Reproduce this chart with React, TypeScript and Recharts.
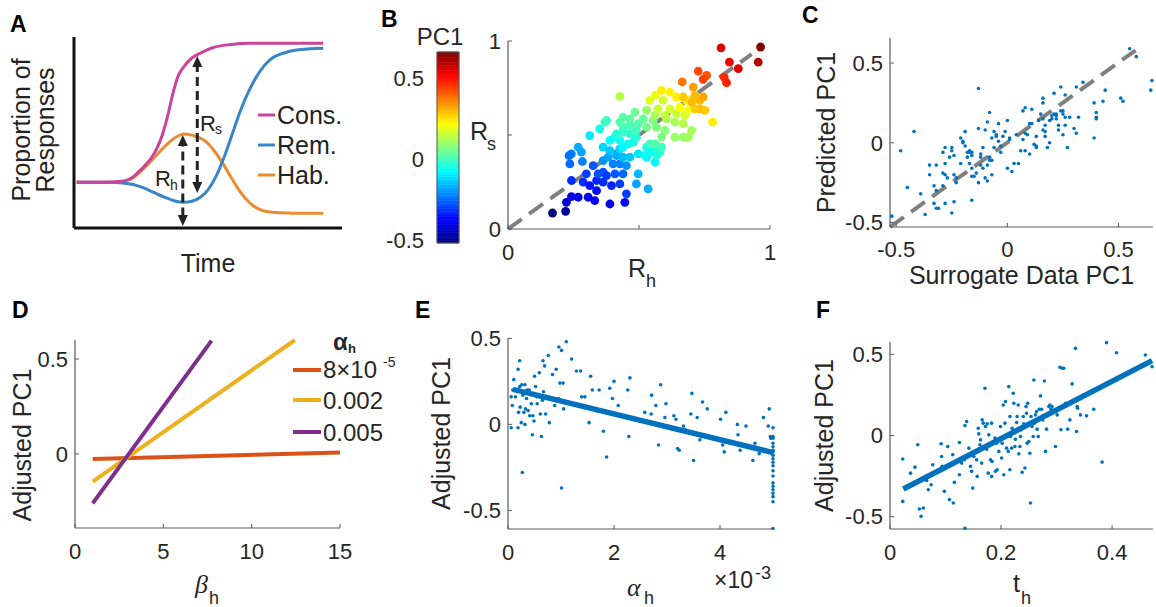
import React from 'react';
import { ComposedChart, XAxis, YAxis, Line, Scatter, ReferenceArea } from 'recharts';

const FONT = "'Liberation Sans', Arial, Helvetica, sans-serif";
const SERIF = "'Liberation Serif', 'Times New Roman', serif";
const TXT = '#262626';
const AXC = '#5a5a5a';
const BLUE = '#0072BD';
const GRAY = '#808080';
const MAG = '#C9449A';
const REM = '#3A85C7';
const HAB = '#EC8B30';

// ---------- Panel A (schematic curves, time in % of axis, proportion 0..1) ----------
const consCurve = [[1,0.239],[12,0.239],[17,0.243],[21,0.258],[24,0.292],[27,0.335],[29,0.37],[31,0.42],[33,0.49],[35,0.59],[37,0.71],[39,0.8],[41,0.845],[44,0.89],[47,0.915],[52,0.945],[58,0.96],[66,0.967],[93,0.967]];
const remCurve = [[1,0.239],[14,0.239],[18,0.236],[22,0.228],[26,0.21],[30,0.185],[34,0.16],[38,0.14],[41,0.135],[44,0.14],[47,0.16],[50,0.2],[53,0.27],[56,0.37],[59,0.49],[62,0.61],[65,0.71],[68,0.79],[71,0.85],[74,0.89],[78,0.915],[83,0.932],[93,0.941]];
const habCurve = [[1,0.239],[12,0.239],[17,0.242],[21,0.255],[24,0.285],[27,0.325],[30,0.37],[33,0.415],[36,0.455],[39,0.483],[41,0.492],[43,0.49],[46,0.477],[49,0.455],[52,0.41],[55,0.35],[58,0.28],[61,0.21],[64,0.155],[67,0.115],[70,0.093],[74,0.082],[80,0.078],[93,0.077]];
const rhShaft = [[40.6,0.06],[40.6,0.44]];
const rsShaft = [[46.0,0.23],[46.0,0.85]];
const arrowHeads = [[40.6,0.487,1],[40.6,0.01,-1],[46.0,0.9,1],[46.0,0.183,-1]];

// ---------- Panel B (Rh, Rs, PC1) ----------
const scatterB = [[0.17,0.085,-0.52],[0.22,0.094,-0.48],[0.223,0.142,-0.42],[0.242,0.172,-0.4],[0.268,0.169,-0.4],[0.306,0.169,-0.38],[0.331,0.151,-0.38],[0.389,0.133,-0.4],[0.446,0.142,-0.36],[0.242,0.258,-0.32],[0.287,0.249,-0.32],[0.312,0.231,-0.35],[0.338,0.204,-0.36],[0.363,0.249,-0.32],[0.395,0.231,-0.33],[0.427,0.24,-0.3],[0.452,0.187,-0.3],[0.338,0.258,-0.33],[0.299,0.293,-0.3],[0.325,0.337,-0.27],[0.344,0.293,-0.28],[0.363,0.302,-0.28],[0.376,0.284,-0.3],[0.408,0.293,-0.27],[0.439,0.293,-0.25],[0.236,0.346,-0.25],[0.242,0.4,-0.22],[0.233,0.39,-0.24],[0.284,0.359,-0.22],[0.268,0.435,-0.17],[0.28,0.409,-0.18],[0.401,0.346,-0.22],[0.427,0.346,-0.22],[0.452,0.337,-0.2],[0.363,0.364,-0.2],[0.382,0.382,-0.18],[0.414,0.391,-0.17],[0.312,0.497,-0.1],[0.35,0.533,-0.05],[0.376,0.577,-0.02],[0.363,0.435,-0.12],[0.389,0.417,-0.14],[0.427,0.426,-0.12],[0.439,0.382,-0.15],[0.465,0.382,-0.14],[0.497,0.293,-0.16],[0.49,0.24,-0.18],[0.535,0.213,-0.17],[0.497,0.4,-0.1],[0.529,0.382,-0.09],[0.561,0.355,-0.08],[0.408,0.488,-0.05],[0.427,0.471,-0.06],[0.439,0.435,-0.08],[0.459,0.453,-0.06],[0.478,0.462,-0.05],[0.389,0.471,-0.07],[0.414,0.506,-0.03],[0.439,0.515,-0.02],[0.465,0.506,-0.02],[0.49,0.488,-0.03],[0.529,0.435,-0.05],[0.541,0.409,-0.06],[0.561,0.435,-0.03],[0.58,0.409,-0.02],[0.522,0.391,-0.06],[0.567,0.391,-0.04],[0.439,0.542,0],[0.37,0.568,0],[0.427,0.568,0.02],[0.439,0.595,0.03],[0.465,0.586,0.03],[0.484,0.622,0.05],[0.465,0.551,0.01],[0.497,0.56,0.02],[0.516,0.586,0.04],[0.49,0.524,0],[0.541,0.453,0],[0.561,0.453,0.02],[0.586,0.435,0],[0.529,0.542,0.06],[0.554,0.577,0.07],[0.567,0.542,0.07],[0.586,0.488,0.07],[0.599,0.524,0.08],[0.637,0.488,0.1],[0.669,0.488,0.1],[0.688,0.488,0.11],[0.701,0.524,0.12],[0.669,0.56,0.13],[0.637,0.568,0.12],[0.605,0.586,0.12],[0.529,0.631,0.1],[0.561,0.604,0.12],[0.427,0.705,0.13],[0.541,0.684,0.18],[0.561,0.71,0.2],[0.592,0.684,0.17],[0.618,0.639,0.17],[0.643,0.613,0.16],[0.675,0.604,0.17],[0.599,0.604,0.15],[0.573,0.639,0.16],[0.586,0.737,0.24],[0.618,0.728,0.23],[0.643,0.702,0.24],[0.682,0.684,0.23],[0.656,0.648,0.22],[0.781,0.568,0.24],[0.688,0.631,0.2],[0.669,0.702,0.28],[0.707,0.755,0.33],[0.713,0.71,0.3],[0.701,0.675,0.3],[0.732,0.684,0.3],[0.745,0.702,0.32],[0.732,0.639,0.3],[0.752,0.631,0.28],[0.713,0.639,0.28],[0.665,0.782,0.38],[0.758,0.817,0.42],[0.726,0.84,0.43],[0.745,0.796,0.44],[0.825,0.808,0.47],[0.834,0.778,0.48],[0.813,0.963,0.55],[0.845,0.888,0.53],[0.879,0.853,0.55],[0.955,0.888,0.6],[0.964,0.968,0.66]];
const identityB = [[0,0],[0.93,0.93]];
const PC1_MIN = -0.519;
const PC1_MAX = 0.663;
const pc1Ticks = [-0.5, 0, 0.5];

// ---------- Panel C ----------
const scatterC = [[-0.52,-0.46],[-0.48,-0.05],[-0.42,0.07],[-0.45,-0.28],[-0.39,-0.32],[-0.37,-0.45],[-0.35,-0.14],[-0.35,-0.2],[-0.33,-0.27],[-0.32,-0.14],[-0.32,-0.3],[-0.33,-0.38],[-0.32,-0.41],[-0.31,-0.41],[-0.29,-0.19],[-0.29,-0.06],[-0.28,-0.13],[-0.28,-0.03],[-0.29,-0.27],[-0.28,-0.38],[-0.28,-0.2],[-0.26,-0.09],[-0.25,-0.05],[-0.25,-0.03],[-0.24,-0.08],[-0.25,-0.44],[-0.27,-0.22],[-0.24,-0.2],[-0.23,-0.25],[-0.23,-0.22],[-0.24,-0.37],[-0.21,-0.13],[-0.21,0.03],[-0.2,0.01],[-0.2,0],[-0.19,0.07],[-0.19,-0.02],[-0.18,-0.09],[-0.18,-0.06],[-0.17,-0.05],[-0.17,-0.06],[-0.16,-0.08],[-0.16,-0.06],[-0.17,-0.13],[-0.16,-0.16],[-0.16,-0.21],[-0.16,-0.36],[-0.15,-0.21],[-0.14,-0.19],[-0.13,-0.25],[-0.13,0.34],[-0.13,0.09],[-0.12,-0.07],[-0.12,-0.14],[-0.12,-0.09],[-0.11,-0.16],[-0.11,-0.03],[-0.1,-0.22],[-0.1,0.08],[-0.09,0.13],[-0.09,-0.14],[-0.09,-0.24],[-0.08,-0.09],[-0.08,0.19],[-0.08,-0.11],[-0.07,-0.2],[-0.07,0.03],[-0.07,-0.11],[-0.06,0.07],[-0.06,-0.03],[-0.05,0.05],[-0.05,0.04],[-0.04,0.01],[-0.04,0.12],[-0.03,-0.06],[-0.03,-0.02],[-0.02,0.04],[-0.01,0.07],[0,0.14],[0,-0.16],[0.01,0.02],[0.01,0.03],[0.02,-0.18],[0.03,-0.13],[0.04,0.05],[0.05,-0.13],[0.06,-0.05],[0.07,0.2],[0.07,0.02],[0.08,0.22],[0.08,-0.05],[0.08,0.06],[0.09,0.05],[0.1,-0.07],[0.1,0.12],[0.11,0.21],[0.11,0.12],[0.12,-0.01],[0.13,-0.02],[0.13,0.04],[0.13,-0.03],[0.14,0.14],[0.15,0.18],[0.16,0.15],[0.16,0.08],[0.16,0.28],[0.16,0.25],[0.17,0.07],[0.17,0.04],[0.17,0.11],[0.18,-0.03],[0.19,0.14],[0.19,0],[0.2,0.17],[0.2,0.15],[0.21,0.31],[0.21,0.18],[0.22,0.17],[0.22,0.18],[0.22,0.15],[0.23,0.08],[0.23,0.11],[0.24,0.35],[0.24,0.2],[0.25,0.05],[0.25,0.2],[0.25,0.18],[0.26,0.3],[0.26,0.11],[0.26,0.16],[0.27,-0.03],[0.28,0.16],[0.3,0.09],[0.31,0.06],[0.31,0.35],[0.32,0.16],[0.34,0.38],[0.39,0.25],[0.39,0.03],[0.4,0.16],[0.4,0.15],[0.4,0.19],[0.43,0.26],[0.44,0.33],[0.51,0.28],[0.52,0.26],[0.55,0.59],[0.58,0.54],[0.645,0.33],[0.65,0.39]];
const identityC = [[-0.528,-0.528],[0.577,0.58]];

// ---------- Panel D (beta_h vs Adjusted PC1, three alpha_h) ----------
const dLowAlpha = [[1,-0.026],[15,0.007]];
const dMidAlpha = [[1,-0.146],[12.45,0.6]];
const dHighAlpha = [[1,-0.26],[7.73,0.597]];

// ---------- Panel E (alpha_h x1e-3) ----------
const scatterE = [[0.06,-0.02],[0.06,0.16],[0.08,0.11],[0.09,0.2],[0.11,0.26],[0.14,0.16],[0.17,0.2],[0.19,0.32],[0.19,-0.02],[0.2,0.07],[0.22,0.37],[0.22,0.22],[0.23,0.1],[0.25,0.01],[0.26,0.23],[0.27,-0.28],[0.28,0.17],[0.3,0.07],[0.32,0.23],[0.32,0],[0.33,0.09],[0.35,0.15],[0.36,0.2],[0.38,0.08],[0.4,0.2],[0.41,0.05],[0.44,0.12],[0.46,-0.06],[0.47,0.05],[0.49,0.02],[0.5,0.28],[0.52,0.22],[0.54,0.16],[0.55,0.12],[0.59,0.3],[0.6,0.16],[0.61,0.06],[0.63,-0.07],[0.65,0.14],[0.66,0.37],[0.67,0.19],[0.69,0.34],[0.71,0.06],[0.72,0.15],[0.76,0.4],[0.78,0.01],[0.79,0.15],[0.84,0.29],[0.88,0.11],[0.91,0.32],[0.95,0.15],[0.96,0.45],[0.98,0.24],[1.01,0.43],[1.01,-0.37],[1.04,0.24],[1.05,0.09],[1.1,0.48],[1.2,0.38],[1.23,0.12],[1.29,0.31],[1.37,0.31],[1.39,0.16],[1.45,0.16],[1.53,0.01],[1.56,0.28],[1.59,0.2],[1.67,0.08],[1.72,0.2],[1.8,-0.04],[1.86,-0.19],[1.92,0.21],[1.97,0.15],[2.0,0.25],[2.08,0.11],[2.26,0.2],[2.28,-0.07],[2.3,0.27],[2.58,0.07],[2.7,0.06],[2.71,0.17],[2.79,0.11],[2.84,-0.12],[2.88,0.23],[2.96,0.04],[2.98,0.12],[3.13,0.05],[3.17,0.03],[3.2,-0.14],[3.23,-0.15],[3.31,-0.01],[3.34,-0.03],[3.45,0.06],[3.47,0.18],[3.5,-0.21],[3.57,0.04],[3.62,-0.09],[3.67,0.13],[3.76,0.09],[4.01,0.03],[4.05,-0.12],[4.08,-0.16],[4.11,0.07],[4.33,0],[4.34,-0.06],[4.38,-0.15],[4.49,-0.01],[4.62,-0.21],[4.66,-0.11],[4.74,-0.17],[4.82,0.04],[4.91,-0.01],[4.93,0.09],[4.95,-0.07],[4.96,-0.08],[5,-0.02],[5,-0.07],[5,-0.08],[5,-0.11],[5,-0.13],[5,-0.15],[5,-0.16],[5,-0.18],[5,-0.2],[5,-0.22],[5,-0.24],[5,-0.27],[5,-0.3],[5,-0.34],[5,-0.36],[5,-0.38],[5,-0.4],[5,-0.42],[5,-0.45],[5,-0.605]];
const fitE = [[0.095,0.203],[5,-0.164]];

// ---------- Panel F (t_h) ----------
const scatterF = [[0.023,-0.145],[0.023,-0.406],[0.037,-0.232],[0.045,-0.195],[0.05,-0.057],[0.053,-0.453],[0.056,-0.498],[0.06,-0.447],[0.066,-0.277],[0.069,-0.334],[0.074,-0.303],[0.077,-0.18],[0.092,-0.051],[0.093,-0.129],[0.094,-0.19],[0.098,-0.344],[0.104,-0.068],[0.107,-0.395],[0.113,-0.119],[0.114,-0.416],[0.116,-0.289],[0.125,-0.043],[0.125,-0.242],[0.129,-0.17],[0.134,-0.15],[0.135,0.061],[0.138,0.086],[0.135,-0.572],[0.142,-0.078],[0.145,-0.19],[0.147,-0.221],[0.149,-0.324],[0.151,-0.129],[0.156,-0.15],[0.157,-0.252],[0.159,0.045],[0.16,0.01],[0.162,-0.057],[0.163,-0.027],[0.165,-0.17],[0.166,0.096],[0.168,0.076],[0.171,0.291],[0.172,0.055],[0.174,-0.084],[0.175,0.072],[0.177,-0.232],[0.178,0.004],[0.18,-0.057],[0.181,-0.15],[0.183,-0.252],[0.183,0.076],[0.184,-0.16],[0.186,-0.037],[0.189,-0.016],[0.19,-0.221],[0.192,-0.047],[0.193,-0.211],[0.196,-0.098],[0.199,0.055],[0.201,-0.139],[0.202,-0.047],[0.204,0.188],[0.205,-0.242],[0.207,0.076],[0.208,0.209],[0.21,-0.078],[0.213,-0.098],[0.214,0.301],[0.216,-0.211],[0.216,0.117],[0.217,-0.006],[0.219,-0.078],[0.22,0.045],[0.222,0.26],[0.223,0.199],[0.225,-0.068],[0.226,-0.023],[0.228,0.08],[0.229,0.117],[0.231,0.188],[0.232,-0.113],[0.234,-0.068],[0.235,-0.006],[0.236,0.035],[0.238,-0.227],[0.24,0.117],[0.241,0.072],[0.243,-0.2],[0.245,0.178],[0.246,0.137],[0.247,-0.047],[0.248,0.199],[0.25,-0.037],[0.252,-0.109],[0.253,-0.416],[0.254,0.117],[0.256,0.055],[0.258,-0.006],[0.259,0.342],[0.26,0.076],[0.262,0.127],[0.264,0.148],[0.265,0.039],[0.267,-0.006],[0.269,0.162],[0.271,0.244],[0.273,0.162],[0.275,0.096],[0.278,0.336],[0.28,-0.098],[0.282,0.039],[0.286,0.178],[0.288,0.188],[0.29,0.162],[0.292,0.178],[0.298,-0.068],[0.301,0.127],[0.306,0.42],[0.308,0.035],[0.31,0.414],[0.313,0.414],[0.316,0.199],[0.32,0.039],[0.324,0.096],[0.328,0.318],[0.334,0.537],[0.336,0.025],[0.337,0.178],[0.338,0.168],[0.343,0.127],[0.354,0.121],[0.367,0.162],[0.382,-0.164],[0.39,0.572],[0.408,0.51],[0.46,0.496],[0.472,0.424]];
const fitF = [[0.024,-0.33],[0.472,0.461]];

// ---------- helpers ----------
const xy = (arr: number[][]) => arr.map(([x, y]) => ({ x, y }));

function jet(v: number) {
  const t = Math.max(0, Math.min(1, (v - PC1_MIN) / (PC1_MAX - PC1_MIN)));
  const c = (u: number) => Math.round(255 * Math.max(0, Math.min(1, u)));
  const r = c(Math.min(4 * t - 1.5, -4 * t + 4.5));
  const g = c(Math.min(4 * t - 0.5, -4 * t + 3.5));
  const b = c(Math.min(4 * t + 0.5, -4 * t + 2.5));
  return `rgb(${r},${g},${b})`;
}

type Rect = { x0: number; y0: number; x1: number; y1: number };
const PL = 70, PT = 12, PR = 14, PB = 48, YW = 60, XH = 34;
function geom(r: Rect) {
  return {
    pos: { position: 'absolute' as const, left: r.x0 - PL, top: r.y0 - PT },
    width: r.x1 - r.x0 + PL + PR,
    height: r.y1 - r.y0 + PT + PB,
    margin: { top: PT, right: PR, bottom: PB - XH, left: PL - YW },
  };
}

const RA: Rect = { x0: 74, y0: 37, x1: 342, y1: 228 };
const RB: Rect = { x0: 508, y0: 40.5, x1: 770, y1: 228.5 };
const RC: Rect = { x0: 890, y0: 38, x1: 1153, y1: 227 };
const RD: Rect = { x0: 75, y0: 340, x1: 340, y1: 528 };
const RE: Rect = { x0: 508, y0: 338, x1: 773, y1: 529 };
const RF: Rect = { x0: 890, y0: 342, x1: 1153, y1: 529 };

const tickStyle = { fill: TXT, fontSize: 22, fontFamily: FONT };
const fmt = (v: number) => String(v);

function xAx(domain: number[], ticks: number[], f: (v: number) => string = fmt, margin = 19) {
  return (
    <XAxis key="xa" type="number" dataKey="x" domain={domain} ticks={ticks} interval={0} height={XH}
      tickSize={-4} tickMargin={margin} tick={tickStyle} tickFormatter={f}
      axisLine={{ stroke: AXC, strokeWidth: 1.2 }} tickLine={{ stroke: AXC }} />
  );
}
function yAx(domain: number[], ticks: number[], f: (v: number) => string = fmt) {
  return (
    <YAxis key="ya" type="number" dataKey="y" domain={domain} ticks={ticks} interval={0} width={YW}
      tickSize={-4} tickMargin={11} tick={tickStyle} tickFormatter={f}
      axisLine={{ stroke: AXC, strokeWidth: 1.2 }} tickLine={{ stroke: AXC }} />
  );
}

const blueDot = (p: any) => <circle cx={p.cx} cy={p.cy} r={1.8} fill={BLUE} />;
const bubble = (p: any) => <circle cx={p.cx} cy={p.cy} r={4.4} fill={jet(p.payload.c)} />;
const arrowHead = (p: any) => {
  const d = p.payload.dir;
  return <polygon points={`${p.cx},${p.cy} ${p.cx - 5},${p.cy + 11 * d} ${p.cx + 5},${p.cy + 11 * d}`} fill="#222" />;
};

const cbSlices = Array.from({ length: 72 }, (_, i) => {
  const a = PC1_MIN + ((PC1_MAX - PC1_MIN) * i) / 72;
  const b = PC1_MIN + ((PC1_MAX - PC1_MIN) * (i + 1)) / 72;
  return { a, b, col: jet((a + b) / 2) };
});
const cbExtent = [{ x: 0, y: PC1_MIN }, { x: 1, y: PC1_MAX }];

export default function App() {
  const gA = geom(RA), gB = geom(RB), gC = geom(RC), gD = geom(RD), gE = geom(RE), gF = geom(RF);
  const bData = scatterB.map(([x, y, c]) => ({ x, y, c }));
  const heads = arrowHeads.map(([x, y, dir]) => ({ x, y, dir }));
  return (
    <div style={{ position: 'absolute', left: 0, top: 0, width: 1156, height: 607, background: '#fff', overflow: 'hidden', fontFamily: FONT }}>
      {/* A */}
      <div style={gA.pos}>
        <ComposedChart width={gA.width} height={gA.height} margin={gA.margin}>
          <XAxis type="number" dataKey="x" domain={[0, 100]} height={XH} tick={false} tickLine={false} axisLine={{ stroke: '#111', strokeWidth: 3 }} />
          <YAxis type="number" dataKey="y" domain={[0, 1]} width={YW} tick={false} tickLine={false} axisLine={{ stroke: '#111', strokeWidth: 3 }} />
          <Line data={xy(habCurve)} dataKey="y" type="monotone" stroke={HAB} strokeWidth={3} dot={false} isAnimationActive={false} />
          <Line data={xy(remCurve)} dataKey="y" type="monotone" stroke={REM} strokeWidth={3} dot={false} isAnimationActive={false} />
          <Line data={xy(consCurve)} dataKey="y" type="monotone" stroke={MAG} strokeWidth={3} dot={false} isAnimationActive={false} />
          <Line data={xy(rhShaft)} dataKey="y" stroke="#222" strokeWidth={3} strokeDasharray="9 5" dot={false} isAnimationActive={false} />
          <Line data={xy(rsShaft)} dataKey="y" stroke="#222" strokeWidth={3} strokeDasharray="9 5" dot={false} isAnimationActive={false} />
          <Scatter data={heads} shape={arrowHead} isAnimationActive={false} />
        </ComposedChart>
      </div>

      {/* B colorbar */}
      <div style={{ position: 'absolute', left: 437 - 70, top: 52 - 12 }}>
        <ComposedChart width={102} height={215} margin={{ top: 12, right: 10, bottom: 12, left: 10 }} data={cbExtent}>
          <XAxis type="number" dataKey="x" domain={[0, 1]} allowDataOverflow hide />
          <YAxis type="number" dataKey="y" domain={[PC1_MIN, PC1_MAX]} allowDataOverflow ticks={pc1Ticks} interval={0} width={60}
            tickLine={false} axisLine={false} tickMargin={7} tick={tickStyle} tickFormatter={fmt} />
          <Line data={cbExtent} dataKey="y" stroke="none" strokeWidth={0} dot={false} isAnimationActive={false} />
          {cbSlices.map((s, i) => (
            <ReferenceArea key={i} x1={0} x2={1} y1={s.a} y2={s.b} fill={s.col} fillOpacity={1} stroke={s.col} strokeWidth={0.6} ifOverflow="visible" />
          ))}
          <ReferenceArea x1={0} x2={1} y1={PC1_MIN} y2={PC1_MAX} fill="none" fillOpacity={0} stroke={AXC} strokeWidth={1} ifOverflow="visible" />
        </ComposedChart>
      </div>

      {/* B */}
      <div style={gB.pos}>
        <ComposedChart width={gB.width} height={gB.height} margin={gB.margin}>
          {xAx([0, 1], [0, 0.5, 1], (v) => (v === 0.5 ? '' : String(v)))}
          {yAx([0, 1], [0, 0.5, 1], (v) => (v === 0.5 ? '' : String(v)))}
          <Scatter data={bData} shape={bubble} isAnimationActive={false} />
          <Line data={xy(identityB)} dataKey="y" stroke={GRAY} strokeWidth={4} strokeDasharray="17 9" dot={false} isAnimationActive={false} />
        </ComposedChart>
      </div>

      {/* C */}
      <div style={gC.pos}>
        <ComposedChart width={gC.width} height={gC.height} margin={gC.margin}>
          {xAx([-0.528, 0.655], [-0.5, 0, 0.5], fmt, 18)}
          {yAx([-0.528, 0.657], [-0.5, 0, 0.5])}
          <Scatter data={xy(scatterC)} shape={blueDot} isAnimationActive={false} />
          <Line data={xy(identityC)} dataKey="y" stroke={GRAY} strokeWidth={4} strokeDasharray="17 9" dot={false} isAnimationActive={false} />
        </ComposedChart>
      </div>

      {/* D */}
      <div style={gD.pos}>
        <ComposedChart width={gD.width} height={gD.height} margin={gD.margin}>
          {xAx([0, 15], [0, 5, 10, 15])}
          {yAx([-0.39, 0.6], [0, 0.5])}
          <Line data={xy(dLowAlpha)} dataKey="y" stroke="#D95319" strokeWidth={4} dot={false} isAnimationActive={false} />
          <Line data={xy(dMidAlpha)} dataKey="y" stroke="#EDB120" strokeWidth={4} dot={false} isAnimationActive={false} />
          <Line data={xy(dHighAlpha)} dataKey="y" stroke="#7E2F8E" strokeWidth={4} dot={false} isAnimationActive={false} />
        </ComposedChart>
      </div>

      {/* E */}
      <div style={gE.pos}>
        <ComposedChart width={gE.width} height={gE.height} margin={gE.margin}>
          {xAx([0, 5], [0, 2, 4])}
          {yAx([-0.608, 0.502], [-0.5, 0, 0.5])}
          <Scatter data={xy(scatterE)} shape={blueDot} isAnimationActive={false} />
          <Line data={xy(fitE)} dataKey="y" stroke={BLUE} strokeWidth={5.5} dot={false} isAnimationActive={false} />
        </ComposedChart>
      </div>

      {/* F */}
      <div style={gF.pos}>
        <ComposedChart width={gF.width} height={gF.height} margin={gF.margin}>
          {xAx([0, 0.4737], [0, 0.2, 0.4])}
          {yAx([-0.576, 0.576], [-0.5, 0, 0.5])}
          <Scatter data={xy(scatterF)} shape={blueDot} isAnimationActive={false} />
          <Line data={xy(fitF)} dataKey="y" stroke={BLUE} strokeWidth={5.5} dot={false} isAnimationActive={false} />
        </ComposedChart>
      </div>

      {/* text overlay */}
      <svg width={1156} height={607} style={{ position: 'absolute', left: 0, top: 0, pointerEvents: 'none' }} fontFamily={FONT}>
        <g fontWeight="bold" fontSize={23} fill="#000">
          <text x={10} y={32}>A</text>
          <text x={381} y={27}>B</text>
          <text x={802} y={23}>C</text>
          <text x={12} y={318}>D</text>
          <text x={415} y={318}>E</text>
          <text x={816} y={318}>F</text>
        </g>

        {/* A labels */}
        <g fill="#222" fontSize={25}>
          <text x={30} y={130} textAnchor="middle" transform="rotate(-90 30 130)">Proportion of</text>
          <text x={54} y={130} textAnchor="middle" transform="rotate(-90 54 130)">Responses</text>
          <text x={208} y={272} textAnchor="middle">Time</text>
          <text x={277} y={124}>Cons.</text>
          <text x={277} y={154}>Rem.</text>
          <text x={277} y={184}>Hab.</text>
        </g>
        <line x1={258} x2={275} y1={115} y2={115} stroke={MAG} strokeWidth={3} />
        <line x1={258} x2={275} y1={145} y2={145} stroke={REM} strokeWidth={3} />
        <line x1={258} x2={275} y1={175} y2={175} stroke={HAB} strokeWidth={3} />
        <g fill="#222">
          <text x={200} y={131} fontSize={22}>R</text>
          <text x={215} y={134} fontSize={14}>s</text>
          <text x={155} y={186} fontSize={22}>R</text>
          <text x={170} y={190} fontSize={14}>h</text>
        </g>

        {/* B labels */}
        <g fill={TXT}>
          <text x={440} y={45} fontSize={24} textAnchor="middle">PC1</text>
          <text x={470} y={140} fontSize={25}>R</text>
          <text x={487} y={150} fontSize={18}>s</text>
          <text x={628} y={277} fontSize={25}>R</text>
          <text x={646} y={287} fontSize={18}>h</text>
        </g>

        {/* C labels */}
        <g fill={TXT} fontSize={25}>
          <text x={835} y={132.5} textAnchor="middle" transform="rotate(-90 835 132.5)">Predicted PC1</text>
          <text x={1021.5} y={284} textAnchor="middle">Surrogate Data PC1</text>
        </g>

        {/* D labels */}
        <g fill={TXT}>
          <text x={31} y={445} fontSize={25} textAnchor="middle" transform="rotate(-90 31 445)">Adjusted PC1</text>
          <text x={195} y={593} fontSize={26} fontStyle="italic" fontFamily={SERIF}>β</text>
          <text x={209} y={604} fontSize={18}>h</text>
          <text x={333} y={350} fontSize={24} fontWeight="bold">α</text>
          <text x={348} y={353} fontSize={13} fontWeight="bold">h</text>
          <text x={323} y={378} fontSize={24}>8×10</text>
          <text x={383} y={367} fontSize={14}>-5</text>
          <text x={323} y={409} fontSize={24}>0.002</text>
          <text x={323} y={441} fontSize={24}>0.005</text>
        </g>
        <line x1={293} x2={321} y1={370} y2={370} stroke="#D95319" strokeWidth={4} />
        <line x1={293} x2={321} y1={400} y2={400} stroke="#EDB120" strokeWidth={4} />
        <line x1={293} x2={321} y1={432} y2={432} stroke="#7E2F8E" strokeWidth={4} />

        {/* E labels */}
        <g fill={TXT}>
          <text x={450} y={433.5} fontSize={25} textAnchor="middle" transform="rotate(-90 450 433.5)">Adjusted PC1</text>
          <text x={627} y={596} fontSize={26} fontStyle="italic" fontFamily={SERIF}>α</text>
          <text x={644} y={604} fontSize={18}>h</text>
          <text x={714} y={588} fontSize={23}>×10</text>
          <text x={755} y={579} fontSize={18}>-3</text>
        </g>

        {/* F labels */}
        <g fill={TXT}>
          <text x={833} y={435.5} fontSize={25} textAnchor="middle" transform="rotate(-90 833 435.5)">Adjusted PC1</text>
          <text x={1013} y={592} fontSize={25}>t</text>
          <text x={1021} y={604} fontSize={18}>h</text>
        </g>
      </svg>
    </div>
  );
}
